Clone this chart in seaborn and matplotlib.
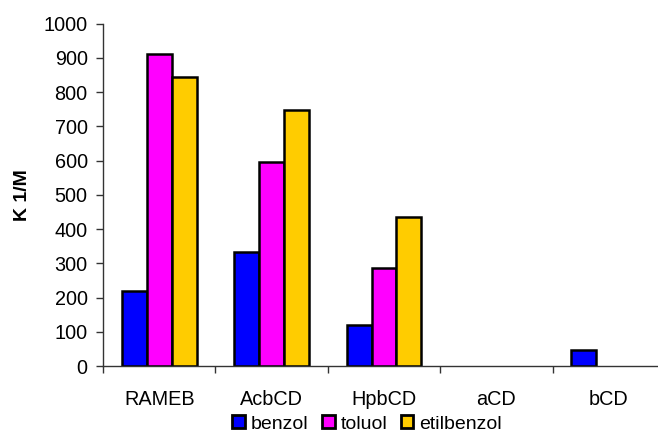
import matplotlib
matplotlib.use("Agg")
import matplotlib.pyplot as plt
from matplotlib.patches import Patch
import seaborn as sns
import pandas as pd

categories = ["RAMEB", "AcbCD", "HpbCD", "aCD", "bCD"]
series = ["benzol", "toluol", "etilbenzol"]
benzol = [220, 332, 120, 0, 48]
toluol = [911, 597, 287, 0, 0]
etilbenzol = [845, 748, 435, 0, 0]
colors = ["#0000FF", "#FF00FF", "#FFCC00"]
yticks = [0, 100, 200, 300, 400, 500, 600, 700, 800, 900, 1000]

rows = []
for name, vals in zip(series, [benzol, toluol, etilbenzol]):
    for c, v in zip(categories, vals):
        rows.append({"cat": c, "series": name, "value": v})
df = pd.DataFrame(rows)

sns.set_style("white")
plt.rcParams["font.family"] = ["Liberation Sans", "DejaVu Sans"]
plt.rcParams["text.color"] = "black"
plt.rcParams["xtick.color"] = "black"
plt.rcParams["ytick.color"] = "black"
plt.rcParams["axes.labelcolor"] = "black"

fig = plt.figure(figsize=(6.58, 4.34), dpi=100)
ax = fig.add_axes([103 / 658, 1 - 366 / 434, 562 / 658, 342.3 / 434])

sns.barplot(data=df, x="cat", y="value", hue="series", order=categories,
            hue_order=series, palette=colors, width=0.667, edgecolor="black",
            linewidth=1.8, saturation=1, ax=ax, legend=False, errorbar=None)

for p in ax.patches:
    if p.get_height() == 0:
        p.set_visible(False)

ax.set_xlim(-0.5, 4.5)
ax.set_ylim(0, 1000)
ax.set_yticks(yticks)
ax.set_yticklabels([str(t) for t in yticks], fontsize=14.3)
ax.set_xticks(range(len(categories)))
ax.set_xticklabels(categories, fontsize=14.3)
ax.set_xticks([i - 0.5 for i in range(len(categories) + 1)], minor=True)
ax.tick_params(axis="x", which="major", length=0, pad=17)
ax.tick_params(axis="x", which="minor", length=5, width=1, color="#333333", bottom=True, direction="out")
ax.tick_params(axis="y", which="major", length=5, width=1, color="#333333", left=True, direction="out", pad=6)

for s in ["top", "right"]:
    ax.spines[s].set_visible(False)
for s in ["left", "bottom"]:
    ax.spines[s].set_color("#333333")
    ax.spines[s].set_linewidth(1)

ax.set_xlabel("")
ax.set_ylabel("K 1/M", fontsize=14, fontweight="bold")
ax.yaxis.set_label_coords(-0.128, 0.5)

handles = [Patch(facecolor=c, edgecolor="black", linewidth=2) for c in colors]
ax.legend(handles, series, ncol=3, frameon=False, fontsize=14,
          loc="center", bbox_to_anchor=(367 / 658, 1 - 424 / 434),
          bbox_transform=fig.transFigure, handlelength=0.65, handleheight=0.65,
          handletextpad=0.3, columnspacing=0.7, borderpad=0)

fig.savefig("out.png", dpi=100)
